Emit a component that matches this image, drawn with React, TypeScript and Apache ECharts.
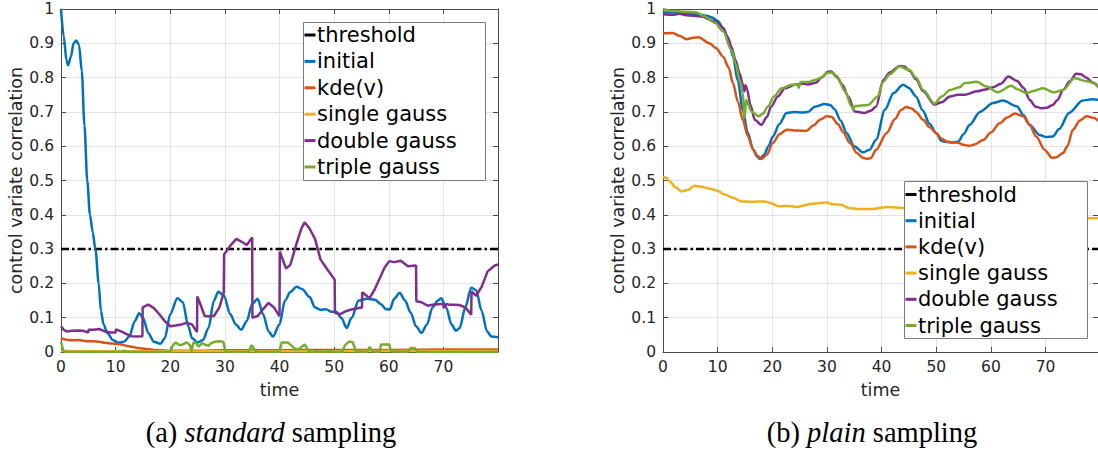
import React, { useEffect, useRef } from "react";
import * as echarts from "echarts";

// ---------- tick / category data ----------
const seriesNames = ["threshold", "initial", "kde(v)", "single gauss", "double gauss", "triple gauss"];
const seriesColors = ["#000000", "#0072BD", "#D95319", "#EDB120", "#7E2F8E", "#77AC30"];
const thresholdValue = [0.3];
const captionA = ["(a) ", "standard", " sampling"];
const captionB = ["(b) ", "plain", " sampling"];

// ---------- (a) standard sampling ----------
const stdInitialT = [0, 0.5, 1, 1.3, 1.8, 2.3, 2.8, 3.3, 3.8, 4.3, 4.8, 5.3, 5.8, 6.3, 6.9, 7.3, 7.8, 8.5, 9.5, 10.5, 11.5, 12.5, 13.5, 14.3, 15, 16, 17, 18.2, 19, 20, 21.3, 22.3, 23.3, 24, 25, 26, 27, 28, 28.8, 29.8, 31, 32, 33, 34, 35, 36, 37, 38, 38.8, 40, 41, 42, 43.1, 44.2, 45.5, 46.5, 47.5, 48.5, 49.5, 50.4, 51.3, 52.3, 53.2, 54.5, 56, 57.5, 58.5, 59.5, 60.2, 61, 62, 63, 64, 65, 66, 67, 68, 69, 69.6, 70.5, 71.5, 72.3, 73, 74, 75.1, 76, 77, 78, 78.8, 80];
const stdInitialV = [1.0, 0.92, 0.85, 0.836, 0.86, 0.9, 0.908, 0.895, 0.82, 0.66, 0.5, 0.4, 0.35, 0.3, 0.2, 0.12, 0.08, 0.055, 0.035, 0.027, 0.03, 0.045, 0.09, 0.113, 0.1, 0.055, 0.03, 0.024, 0.04, 0.11, 0.157, 0.145, 0.075, 0.04, 0.028, 0.035, 0.07, 0.15, 0.176, 0.165, 0.11, 0.08, 0.065, 0.09, 0.14, 0.155, 0.11, 0.06, 0.045, 0.08, 0.15, 0.175, 0.19, 0.183, 0.16, 0.13, 0.123, 0.125, 0.117, 0.117, 0.1, 0.07, 0.1, 0.15, 0.155, 0.152, 0.14, 0.125, 0.124, 0.155, 0.173, 0.15, 0.115, 0.075, 0.056, 0.08, 0.13, 0.15, 0.157, 0.13, 0.08, 0.062, 0.07, 0.13, 0.187, 0.18, 0.12, 0.06, 0.045, 0.043];

const stdKdeT = [0, 1, 2, 3, 4, 5, 6, 7, 8, 9, 10, 11, 12, 13, 14, 15, 16, 17, 18, 20, 25, 30, 40, 50, 60, 70, 80];
const stdKdeV = [0.04, 0.036, 0.034, 0.035, 0.033, 0.031, 0.031, 0.03, 0.027, 0.025, 0.024, 0.022, 0.018, 0.015, 0.012, 0.01, 0.008, 0.006, 0.005, 0.004, 0.004, 0.005, 0.005, 0.006, 0.006, 0.007, 0.007];

const stdSingleT = [0, 20, 40, 60, 80];
const stdSingleV = [0.003, 0.002, 0.002, 0.003, 0.003];

const stdDoubleT = [0, 0.5, 1, 2, 3, 4, 5, 5.05, 6, 7, 8, 9, 10, 10.05, 11, 12, 13, 14, 14.9, 14.95, 16, 17, 18, 19, 20, 21, 22, 23, 24, 24.9, 24.95, 25.5, 26.3, 27, 28, 29, 29.8, 29.85, 31, 32.1, 33, 34, 35, 35.05, 36, 37, 38, 39, 40, 40.05, 41.2, 42, 43, 44, 44.6, 45.5, 46.5, 47.5, 48.8, 50.1, 50.15, 51, 52, 53, 54, 55.1, 55.15, 56.5, 57.5, 58.5, 59.2, 60.1, 61, 62.2, 63.5, 65, 65.05, 66, 67.1, 68, 69.6, 70, 70.05, 70.6, 71, 72, 72.9, 74, 75.1, 75.15, 76, 77, 78.1, 79.4, 80];
const stdDoubleV = [0.075, 0.065, 0.06, 0.062, 0.063, 0.062, 0.057, 0.065, 0.065, 0.067, 0.06, 0.057, 0.057, 0.066, 0.06, 0.052, 0.046, 0.045, 0.046, 0.13, 0.138, 0.128, 0.11, 0.09, 0.075, 0.077, 0.08, 0.085, 0.08, 0.058, 0.162, 0.14, 0.105, 0.104, 0.105, 0.13, 0.173, 0.284, 0.31, 0.33, 0.322, 0.312, 0.334, 0.1, 0.105, 0.125, 0.143, 0.13, 0.104, 0.293, 0.243, 0.255, 0.31, 0.36, 0.378, 0.36, 0.33, 0.27, 0.24, 0.211, 0.114, 0.11, 0.118, 0.123, 0.127, 0.13, 0.174, 0.157, 0.185, 0.22, 0.245, 0.265, 0.262, 0.266, 0.25, 0.252, 0.148, 0.145, 0.135, 0.138, 0.14, 0.14, 0.128, 0.14, 0.138, 0.138, 0.137, 0.13, 0.109, 0.177, 0.164, 0.19, 0.235, 0.252, 0.255];

const stdTripleT = [0, 0.4, 0.8, 11, 11.5, 12, 20, 20.5, 21, 21.7, 22.3, 23, 23.6, 23.9, 24.2, 24.6, 25.2, 25.8, 26.3, 27, 27.5, 28.2, 29, 29.7, 30.1, 30.5, 34.3, 34.9, 35.5, 36, 40, 40.4, 41.5, 42.3, 43, 43.7, 44.6, 45.3, 46, 47, 48, 49, 50, 51.5, 52, 52.8, 53.4, 54, 56, 56.5, 57, 58.3, 58.6, 60.1, 60.4, 63.5, 64, 64.7, 65.3, 80];
const stdTripleV = [0.03, 0.005, 0, 0, 0.004, 0, 0, 0.02, 0.028, 0.02, 0.022, 0.028, 0.02, 0.002, 0.026, 0.028, 0.015, 0.026, 0.022, 0.018, 0.026, 0.03, 0.031, 0.03, 0.002, 0, 0, 0.02, 0.005, 0, 0, 0.028, 0.028, 0.017, 0.007, 0.01, 0.022, 0.003, 0, 0.003, 0, 0.004, 0, 0, 0.02, 0.031, 0.028, 0.002, 0, 0.015, 0.002, 0, 0.022, 0.022, 0.002, 0, 0.012, 0.012, 0, 0];

// ---------- (b) plain sampling ----------
const plainInitialT = [0, 2, 4, 6, 8, 9, 10, 11, 12, 12.8, 13.7, 14.6, 15.5, 16.5, 17.2, 17.7, 18.5, 19.3, 20.1, 21.3, 22.6, 24, 25.5, 26.5, 27.8, 29.6, 30.6, 31.4, 32.5, 33.6, 35, 36.6, 37.8, 39, 40.6, 42.2, 43.9, 45, 46.3, 47.5, 48.8, 50, 51, 52, 53, 54, 55, 56.1, 58, 60.4, 62.2, 64.8, 66, 67.1, 68.9, 70, 71.3, 72.5, 74.3, 76.8, 78.5, 80];
const plainInitialV = [0.99, 0.99, 0.988, 0.985, 0.98, 0.975, 0.965, 0.945, 0.91, 0.861, 0.79, 0.706, 0.64, 0.59, 0.57, 0.563, 0.575, 0.6, 0.628, 0.665, 0.697, 0.7, 0.698, 0.7, 0.715, 0.723, 0.72, 0.708, 0.675, 0.638, 0.6, 0.582, 0.59, 0.619, 0.706, 0.755, 0.779, 0.77, 0.745, 0.705, 0.665, 0.638, 0.615, 0.612, 0.611, 0.613, 0.635, 0.662, 0.7, 0.726, 0.733, 0.716, 0.69, 0.662, 0.633, 0.627, 0.628, 0.65, 0.697, 0.733, 0.737, 0.735];

const plainKdeT = [0, 1.8, 3, 4.3, 5.5, 6.5, 8.5, 9.7, 11, 12, 12.8, 13.7, 14.6, 15.5, 16.5, 17.3, 18, 19, 20.1, 21.3, 22.6, 24, 25.5, 26.3, 27.5, 28.8, 29.9, 30.8, 32, 33, 34.2, 35.5, 36.5, 37.2, 38, 39, 40.9, 42.5, 43.5, 44.5, 45.5, 46.3, 47.6, 48.8, 50, 51, 51.9, 53, 54, 55, 56.1, 57, 58.6, 60, 61.6, 63, 64.4, 65.9, 67, 68.3, 69.8, 71.2, 72, 73.2, 74, 75, 76.3, 77.5, 78.7, 80];
const plainKdeV = [0.929, 0.93, 0.922, 0.912, 0.916, 0.918, 0.9, 0.886, 0.861, 0.83, 0.784, 0.73, 0.677, 0.63, 0.59, 0.572, 0.563, 0.575, 0.609, 0.635, 0.648, 0.646, 0.645, 0.645, 0.66, 0.678, 0.687, 0.686, 0.665, 0.64, 0.609, 0.58, 0.567, 0.563, 0.565, 0.59, 0.638, 0.68, 0.705, 0.714, 0.71, 0.7, 0.677, 0.655, 0.638, 0.622, 0.614, 0.611, 0.61, 0.604, 0.601, 0.605, 0.618, 0.64, 0.667, 0.684, 0.695, 0.687, 0.665, 0.628, 0.59, 0.566, 0.568, 0.58, 0.6, 0.648, 0.675, 0.687, 0.683, 0.67];

const plainSingleT = [0, 0.6, 1.2, 2.3, 3.4, 4.5, 5.8, 7, 8.8, 10, 11.3, 12.8, 14.3, 16, 18.6, 19.5, 21.3, 23, 24.7, 26, 27.2, 29.9, 31, 32.6, 34, 36, 38.1, 41.2, 44.2, 50, 56, 62, 68, 74, 77.6, 80];
const plainSingleV = [0.51, 0.508, 0.498, 0.48, 0.468, 0.472, 0.485, 0.482, 0.475, 0.47, 0.459, 0.45, 0.439, 0.438, 0.439, 0.435, 0.425, 0.426, 0.423, 0.428, 0.432, 0.436, 0.431, 0.429, 0.42, 0.417, 0.417, 0.423, 0.42, 0.415, 0.41, 0.405, 0.4, 0.395, 0.391, 0.39];

const plainDoubleT = [0, 1.8, 3, 4.3, 7, 9.2, 10.1, 11, 11.8, 12.5, 13.3, 14, 14.6, 14.9, 15.1, 15.4, 16, 16.8, 18, 19, 19.8, 21, 22.3, 24.1, 25.5, 26.5, 28, 29, 30.2, 30.8, 31.7, 32.8, 33.9, 35.1, 36.9, 38, 39, 40.3, 41.5, 43.3, 44.2, 45.1, 46.3, 47.6, 49.7, 51, 52.5, 54, 55.2, 57.4, 59, 60.4, 61.8, 63.2, 64.8, 66, 67.1, 68.2, 69.2, 70.2, 71.3, 72.2, 73.2, 74.5, 75.6, 76.5, 77.4, 78.7, 80];
const plainDoubleV = [0.985, 0.983, 0.986, 0.982, 0.978, 0.966, 0.958, 0.944, 0.92, 0.89, 0.85, 0.813, 0.78, 0.76, 0.778, 0.765, 0.72, 0.677, 0.662, 0.685, 0.716, 0.745, 0.769, 0.779, 0.782, 0.78, 0.785, 0.8, 0.817, 0.818, 0.805, 0.78, 0.745, 0.701, 0.697, 0.703, 0.716, 0.793, 0.815, 0.834, 0.832, 0.82, 0.795, 0.76, 0.721, 0.728, 0.745, 0.75, 0.75, 0.76, 0.765, 0.772, 0.782, 0.803, 0.79, 0.77, 0.735, 0.715, 0.711, 0.712, 0.72, 0.735, 0.764, 0.79, 0.811, 0.81, 0.8, 0.785, 0.766];

const plainTripleT = [0, 1.2, 4.3, 6.1, 7.6, 9.5, 11, 12.5, 13.3, 14, 14.6, 14.95, 15.2, 16.2, 17.5, 18.3, 19.2, 20.3, 21.7, 23.5, 24.7, 24.8, 25.2, 26.5, 27.8, 29, 29.9, 30.8, 32, 33.3, 34.5, 34.8, 35.1, 37.5, 39.3, 40.3, 41.5, 43.3, 45.1, 46.3, 47.6, 49.7, 51, 52.5, 54.3, 55.2, 57.4, 59.2, 61.3, 63.7, 65, 66.5, 68, 69.5, 71.6, 73.2, 75.3, 77.4, 78.7, 80];
const plainTripleV = [1.0, 0.995, 0.992, 0.99, 0.978, 0.96, 0.935, 0.881, 0.84, 0.793, 0.755, 0.682, 0.735, 0.701, 0.687, 0.695, 0.716, 0.745, 0.769, 0.779, 0.78, 0.77, 0.787, 0.787, 0.793, 0.8, 0.813, 0.815, 0.798, 0.76, 0.716, 0.706, 0.717, 0.72, 0.745, 0.788, 0.81, 0.832, 0.822, 0.8, 0.764, 0.724, 0.745, 0.764, 0.772, 0.784, 0.788, 0.774, 0.757, 0.776, 0.765, 0.755, 0.762, 0.769, 0.757, 0.764, 0.798, 0.79, 0.785, 0.77];

const FONT = "DejaVu Sans";
const TXT = "#262626";
const AXC = "#4a4a4a";
const GRIDC = "#e3e3e3";

function zip(ts: number[], vs: number[]) {
  return ts.map((t, i) => [t, vs[i]]);
}

function lineSeries(name: string, idx: number, data: number[][], smooth: boolean | number) {
  const colorIdx = seriesNames.indexOf(name);
  return {
    type: "line",
    name,
    xAxisIndex: idx,
    yAxisIndex: idx,
    data,
    showSymbol: false,
    symbol: "none",
    smooth,
    smoothMonotone: "x",
    color: seriesColors[colorIdx],
    lineStyle: { width: 2.5, color: seriesColors[colorIdx] },
    clip: true,
    z: 3,
  };
}

function thresholdSeries(idx: number, xmax: number) {
  return {
    type: "line",
    name: "threshold",
    xAxisIndex: idx,
    yAxisIndex: idx,
    data: [[0, thresholdValue[0]], [xmax, thresholdValue[0]]],
    showSymbol: false,
    symbol: "none",
    color: "#000000",
    lineStyle: { width: 2.5, color: "#000000", type: [8, 3, 2.5, 3] },
    z: 3,
  };
}

function xAxisMain(gridIndex: number, max: number) {
  return {
    type: "value",
    gridIndex,
    min: 0,
    max,
    interval: 10,
    name: "time",
    nameLocation: "middle",
    nameGap: 29,
    nameTextStyle: { fontFamily: FONT, fontSize: 17.5, color: TXT },
    axisLine: { show: true, onZero: false, lineStyle: { color: AXC, width: 1 } },
    axisTick: { show: true, inside: true, length: 5, lineStyle: { color: AXC } },
    axisLabel: { fontFamily: FONT, fontSize: 15.5, color: TXT, margin: 7, showMaxLabel: false },
    splitLine: { show: true, lineStyle: { color: GRIDC, width: 1 } },
  };
}
function xAxisTop(gridIndex: number, max: number) {
  return {
    type: "value",
    gridIndex,
    position: "top",
    min: 0,
    max,
    interval: 10,
    axisLine: { show: true, onZero: false, lineStyle: { color: AXC, width: 1 } },
    axisTick: { show: true, inside: true, length: 5, lineStyle: { color: AXC } },
    axisLabel: { show: false },
    splitLine: { show: false },
  };
}
function yAxisMain(gridIndex: number) {
  return {
    type: "value",
    gridIndex,
    min: 0,
    max: 1,
    interval: 0.1,
    name: "control variate correlation",
    nameLocation: "middle",
    nameGap: 31,
    nameTextStyle: { fontFamily: FONT, fontSize: 17.5, color: TXT },
    axisLine: { show: true, onZero: false, lineStyle: { color: AXC, width: 1 } },
    axisTick: { show: true, inside: true, length: 5, lineStyle: { color: AXC } },
    axisLabel: { fontFamily: FONT, fontSize: 15.5, color: TXT, margin: 7 },
    splitLine: { show: true, lineStyle: { color: GRIDC, width: 1 } },
  };
}
function yAxisRight(gridIndex: number) {
  return {
    type: "value",
    gridIndex,
    position: "right",
    min: 0,
    max: 1,
    interval: 0.1,
    axisLine: { show: true, onZero: false, lineStyle: { color: AXC, width: 1 } },
    axisTick: { show: true, inside: true, length: 5, lineStyle: { color: AXC } },
    axisLabel: { show: false },
    splitLine: { show: false },
  };
}

// legend drawn as a graphic group (box, short colour lines, labels)
function legendBox(left: number, top: number, width: number, height: number, firstY: number, step: number) {
  const children: any[] = [
    {
      type: "rect",
      shape: { x: 0, y: 0, width, height },
      style: { fill: "#ffffff", stroke: "#7a7a7a", lineWidth: 1 },
      z: 100,
    },
  ];
  seriesNames.forEach((n, i) => {
    const y = firstY + i * step;
    children.push({
      type: "line",
      shape: { x1: 1, y1: y, x2: 12, y2: y },
      style: { stroke: seriesColors[i], lineWidth: 3 },
      z: 101,
    });
    children.push({
      type: "text",
      x: 13.5,
      y,
      style: {
        text: n,
        fontFamily: FONT,
        fontSize: 21,
        fill: "#000000",
        align: "left",
        verticalAlign: "middle",
      },
      z: 101,
    });
  });
  return { type: "group", x: left + 0.5, y: top + 0.5, children, z: 100 };
}

function caption(parts: string[], cx: number) {
  return {
    type: "text",
    x: cx,
    y: 432,
    style: {
      text: `{n|${parts[0]}}{i|${parts[1]}}{n|${parts[2]}}`,
      align: "center",
      verticalAlign: "middle",
      rich: {
        n: { fontFamily: "Liberation Serif", fontSize: 28.5, fill: "#000" },
        i: { fontFamily: "Liberation Serif", fontSize: 28.5, fontStyle: "italic", fill: "#000" },
      },
    },
  };
}

export default function App() {
  const ref = useRef<HTMLDivElement>(null);
  useEffect(() => {
    if (!ref.current) return;
    const chart = echarts.init(ref.current, undefined, { renderer: "svg" });
    const XMAX_A = 80;
    const XMAX_B = 79.6;
    const option = {
      animation: false,
      backgroundColor: "#ffffff",
      grid: [
        { left: 61, top: 9, width: 437, height: 343, containLabel: false },
        { left: 663, top: 9, width: 435, height: 343, containLabel: false },
      ],
      xAxis: [xAxisMain(0, XMAX_A), xAxisMain(1, XMAX_B), xAxisTop(0, XMAX_A), xAxisTop(1, XMAX_B)],
      yAxis: [yAxisMain(0), yAxisMain(1), yAxisRight(0), yAxisRight(1)],
      graphic: [
        legendBox(303, 22, 182, 158, 12.5, 26.4),
        legendBox(904, 181, 183, 157, 13, 26.2),
        caption(captionA, 271),
        caption(captionB, 872),
      ],
      series: [
        thresholdSeries(0, XMAX_A),
        lineSeries("initial", 0, zip(stdInitialT, stdInitialV), 0.3),
        lineSeries("kde(v)", 0, zip(stdKdeT, stdKdeV), 0.3),
        lineSeries("single gauss", 0, zip(stdSingleT, stdSingleV), 0.3),
        lineSeries("double gauss", 0, zip(stdDoubleT, stdDoubleV), false),
        lineSeries("triple gauss", 0, zip(stdTripleT, stdTripleV), false),
        thresholdSeries(1, XMAX_B),
        lineSeries("initial", 1, zip(plainInitialT, plainInitialV), 0.3),
        lineSeries("kde(v)", 1, zip(plainKdeT, plainKdeV), 0.3),
        lineSeries("single gauss", 1, zip(plainSingleT, plainSingleV), 0.3),
        lineSeries("double gauss", 1, zip(plainDoubleT, plainDoubleV), 0.3),
        lineSeries("triple gauss", 1, zip(plainTripleT, plainTripleV), 0.3),
      ],
    };
    chart.setOption(option as any);
    return () => chart.dispose();
  }, []);
  return (
    <div
      ref={ref}
      style={{ position: "fixed", left: 0, top: 0, width: 1098, height: 450, background: "#fff" }}
    />
  );
}
